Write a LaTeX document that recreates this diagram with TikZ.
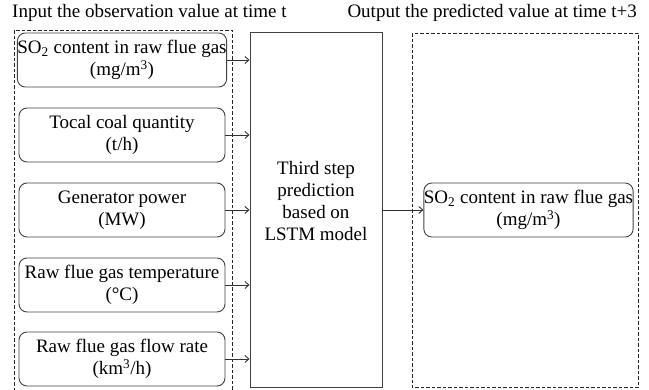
\documentclass[tikz,border=0pt]{standalone}
\usepackage{fontspec}
\setmainfont{Liberation Serif}
\usetikzlibrary{arrows.meta}
\begin{document}
\begin{tikzpicture}[x=1pt,y=-1pt,
  every node/.style={font=\fontsize{19}{22}\selectfont, text=black},
  inbox/.style={draw=black!75, line width=0.9pt, rounded corners=8pt, minimum width=206pt, minimum height=54pt, inner xsep=0pt, inner ysep=0pt, align=center},
  plainbox/.style={draw=black!75, line width=0.9pt, inner sep=0pt, align=center},
  dashbox/.style={draw=black!85, line width=0.8pt, dash pattern=on 3.5pt off 2pt},
  conn/.style={draw=black!80, line width=0.9pt, -{Straight Barb[length=4pt,width=7pt]}},
  title/.style={inner sep=0pt}
]
\useasboundingbox (0,0) rectangle (649,389);
\begin{scope}
\clip (0,0) rectangle (649,389);
\node[title, anchor=west] (t1) at (12,13) {Input the observation value at time t};
\node[title, anchor=east] (t2) at (637,13) {Output the predicted value at time t+3};

\draw[dashbox] (14,30) rectangle (232,395);
\draw[dashbox] (412,33) rectangle (638,387.5);

\node[plainbox, minimum width=132pt, minimum height=355pt] (lstm) at (316,209.5) {};
\node[align=center, inner sep=0pt] (lstmtext) at (316,201) {Third step\\prediction\\based on\\LSTM model};

\node[inbox] (in1) at (122,60) {SO\textsubscript{2} content in raw flue gas\\(mg/m\textsuperscript{3})};
\node[inbox] (in2) at (122,135) {Tocal coal quantity\\(t/h)};
\node[inbox] (in3) at (122,210) {Generator power\\(MW)};
\node[inbox] (in4) at (122,285) {Raw flue gas temperature\\(°C)};
\node[inbox] (in5) at (122,359) {Raw flue gas flow rate\\(km\textsuperscript{3}/h)};

\node[inbox] (out) at (528.5,210) {SO\textsubscript{2} content in raw flue gas\\(mg/m\textsuperscript{3})};

\foreach \i in {1,...,5}{
  \draw[conn] (in\i.east) -- (in\i.east -| lstm.west);
}
\draw[conn] (out.west -| lstm.east) -- (out.west);
\end{scope}
\end{tikzpicture}
\end{document}
